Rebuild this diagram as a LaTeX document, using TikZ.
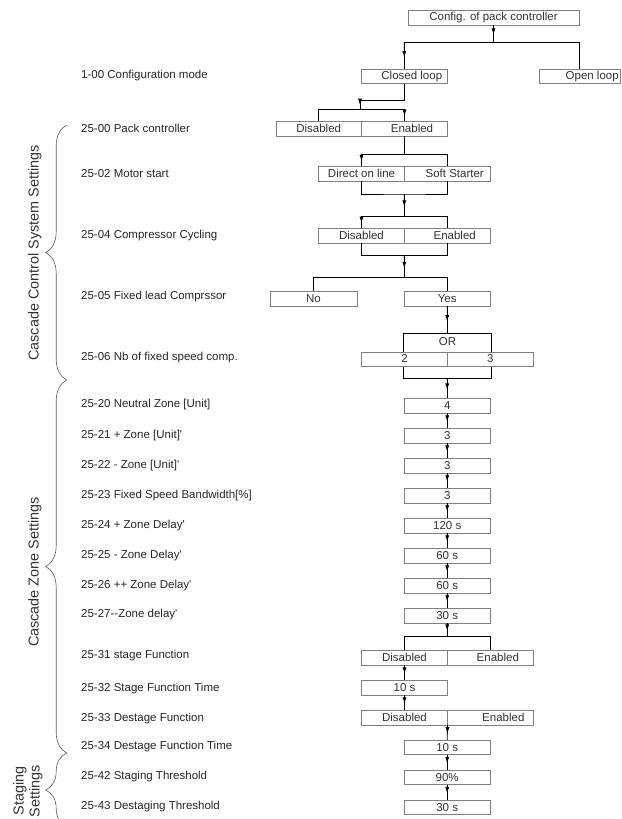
\documentclass[tikz,border=0pt]{standalone}
\usepackage{fontspec}
\setmainfont{Liberation Sans}
\usetikzlibrary{arrows.meta,calc,decorations.pathreplacing}

% connector with the arrow head part way along
\newcommand\flowline[2]{%
  \draw[link] (#1) -- (#2);
  \draw[link,-{Latex[length=6.5pt,width=4pt]}] (#1) -- ($(#1)!0.58!(#2)$);
}

\begin{document}
\begin{tikzpicture}[x=1pt,y=-1pt,
  optbox/.style={draw=black!50,fill=white,minimum width=85.7pt,minimum height=14.5pt,inner sep=0pt,text=black!80,font=\fontsize{11.5}{13}\selectfont},
  optboxr/.style={optbox,execute at begin node=\hspace*{15pt}},
  parlabel/.style={anchor=west,inner sep=0pt,text=black!85,font=\fontsize{11.5}{13}\selectfont},
  grplabel/.style={rotate=90,inner sep=0pt,text=black!80,font=\fontsize{14.4}{16}\selectfont},
  link/.style={line width=0.8pt},
  grpbrace/.style={draw=black!65,line width=0.6pt,decorate,decoration={brace,amplitude=21pt}}]
\useasboundingbox (0,0) rectangle (621,819);

% parameter names
\foreach \y/\t [count=\n] in {76/{1-00 Configuration mode},128.3/{25-00 Pack controller},
  173.3/{25-02 Motor start},236/{25-04 Compressor Cycling},296.7/{25-05 Fixed lead Comprssor},
  357.3/{25-06 Nb of fixed speed comp.},404.3/{25-20 Neutral Zone [Unit]},
  435.7/{25-21 + Zone [Unit]\textquotesingle},465.7/{25-22 - Zone [Unit]\textquotesingle},
  495.3/{25-23 Fixed Speed Bandwidth[\%]},525.7/{25-24 + Zone Delay\textquotesingle},
  555.7/{25-25 - Zone Delay\textquotesingle},585.7/{25-26 ++ Zone Delay\textquotesingle},
  615/{25-27{-}{-}Zone delay\textquotesingle},656/{25-31 stage Function},
  688.3/{25-32 Stage Function Time},718.3/{25-33 Destage Function},
  746.7/{25-34 Destage Function Time},776.7/{25-42 Staging Threshold},
  806.7/{25-43 Destaging Threshold}} {
  \node[parlabel] (par\n) at (81,\y) {\t};
}

% groups
\draw[grpbrace] (66.7,380) -- (66.7,125);
\draw[grpbrace] (66.7,753) -- (66.7,380);
\draw[grpbrace] (66.7,827) -- (66.7,753);
\node[grplabel] (gctrl) at (35,253) {Cascade Control System Settings};
\node[grplabel] (gzone) at (35,572) {Cascade Zone Settings};
\node[grplabel,align=center] (gstag) at (28,791) {Staging\\Settings};

% option boxes
\node[optbox,minimum width=171pt] (cfg) at (493.5,17.5) {Config. of pack controller};
\node[optboxr,minimum width=86.7pt] (closed) at (404.3,76.3) {Closed loop};
\node[optboxr,minimum width=80.7pt,execute at begin node=\hspace*{10pt}] (open) at (579.7,76.3) {Open loop};
\node[optbox] (pcDis) at (318.7,128.5) {Disabled};
\node[optboxr] (pcEn) at (404.5,128.5) {Enabled};
\node[optbox] (msDol) at (361.5,173.8) {Direct on line};
\node[optboxr] (msSoft) at (447.2,173.8) {Soft Starter};
\node[optbox] (ccDis) at (361.5,235.8) {Disabled};
\node[optboxr] (ccEn) at (447.2,235.8) {Enabled};
\node[optbox,minimum width=86.4pt] (flNo) at (313.5,298.7) {No};
\node[optbox] (flYes) at (447.2,298.7) {Yes};
\node[draw,link,minimum width=88.4pt,minimum height=45pt,inner sep=0pt] (orbox) at (447.5,355.8) {};
\node[inner sep=0pt,text=black!80,font=\fontsize{11.5}{13}\selectfont] (ortxt) at (447.5,341.7) {OR};
\node[optbox,minimum height=14pt] (nb2) at (404.5,358.7) {2};
\node[optbox,minimum height=14pt] (nb3) at (490.3,358.7) {3};
\foreach \v [count=\i] in {4,3,3,3,120 s,60 s,60 s,30 s} {
  \node[optbox] (z\i) at (447.2,{375.6+30*\i}) {\v};
}
\node[optbox] (sfDis) at (404.5,657.6) {Disabled};
\node[optboxr] (sfEn) at (490.3,657.6) {Enabled};
\node[optbox] (sft) at (404.5,687.8) {10 s};
\node[optbox] (dfDis) at (404.5,717.5) {Disabled};
\node[optboxr,execute at begin node=\hspace*{11pt}] (dfEn) at (490.3,717.5) {Enabled};
\node[optbox] (dft) at (447.2,747.3) {10 s};
\node[optbox] (stg) at (447.2,777.3) {90\%};
\node[optbox] (dstg) at (447.2,807.3) {30 s};

% junctions
\coordinate (j1) at (493.5,42);
\coordinate (j2) at (360,100);
\coordinate (j3) at (360,109);
\coordinate (j4) at (404.5,154.3);
\coordinate (j5) at (404.3,194);
\coordinate (j6) at (404.3,216);
\coordinate (j7) at (404.3,255.3);
\coordinate (j8) at (404.3,277.7);
\coordinate (j9) at (447.2,636.7);

% connectors
\flowline{cfg.south}{j1}
\draw[link] (closed.north |- j1) -- (open.north |- j1) -- (open.north);
\flowline{closed.north |- j1}{closed.north}
\draw[link] (closed.south) |- (j2);
\flowline{j2}{j3}
\draw[link] (pcDis.north) |- (pcEn.north |- j3);
\flowline{pcEn.north |- j3}{pcEn.north}
\draw[link] (pcEn.south) -- (j4);
\draw[link] (msSoft.north) |- (msDol.north |- j4);
\flowline{msDol.north |- j4}{msDol.north}
\draw[link] (msDol.south) |- (j5) -| (msSoft.south);
\flowline{j5}{j6}
\draw[link] (ccEn.north) |- (ccDis.north |- j6);
\flowline{ccDis.north |- j6}{ccDis.north}
\draw[link] (ccDis.south) |- (j7) -| (ccEn.south);
\flowline{j7}{j8}
\draw[link] (flNo.north) |- (j8) -| (flYes.north);
\flowline{flYes.south}{flYes.south |- orbox.north}
\flowline{z1.north |- orbox.south}{z1.north}
\foreach \i [evaluate=\i as \j using int(\i+1)] in {1,...,7} {
  \flowline{z\i.south}{z\j.north}
}
\flowline{z8.south}{j9}
\draw[link] (sfDis.north) |- (j9) -| (sfEn.north);
\flowline{sfDis.south}{sft.north}
\flowline{sft.south}{dfDis.north}
\flowline{dfDis.south east}{dft.north}
\flowline{dft.south}{stg.north}
\flowline{stg.south}{dstg.north}
\end{tikzpicture}
\end{document}
